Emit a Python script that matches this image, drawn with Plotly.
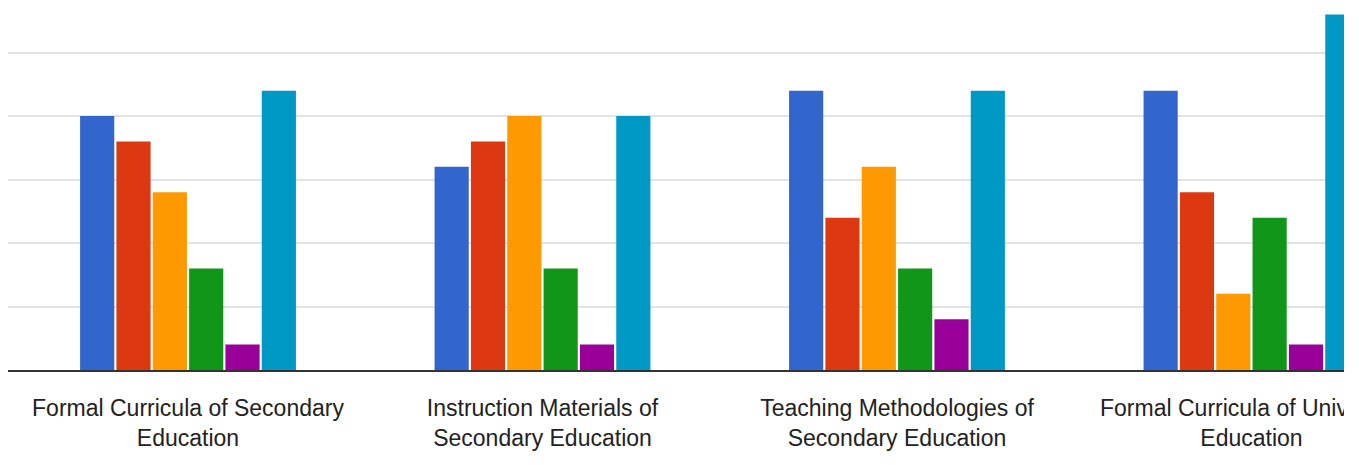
import plotly.graph_objects as go

categories = [
    "Formal Curricula of Secondary<br>Education",
    "Instruction Materials of<br>Secondary Education",
    "Teaching Methodologies of<br>Secondary Education",
    "Formal Curricula of University<br>Education",
]
series_names = ["Series 1", "Series 2", "Series 3", "Series 4", "Series 5", "Series 6"]
s1 = [10, 8, 11, 11]
s2 = [9, 9, 6, 7]
s3 = [7, 10, 8, 3]
s4 = [4, 4, 4, 6]
s5 = [1, 1, 2, 1]
s6 = [11, 10, 11, 14]
colors = ["#3366cc", "#dc3912", "#ff9900", "#109618", "#990099", "#0099c6"]

fig = go.Figure()
for name, vals, col in zip(series_names, [s1, s2, s3, s4, s5, s6], colors):
    fig.add_trace(go.Bar(x=list(range(len(categories))), y=vals, name=name,
                         marker=dict(color=col, line=dict(width=0))))

fig.update_layout(
    width=1344, height=465,
    margin=dict(l=8, r=0, t=0, b=95, autoexpand=False),
    barmode="group", bargap=0.385, bargroupgap=0.06,
    plot_bgcolor="white", paper_bgcolor="white",
    showlegend=False,
    font=dict(family="Liberation Sans, Arial, sans-serif", color="#222222"),
)
fig.update_xaxes(
    tickmode="array", tickvals=list(range(len(categories))), ticktext=categories,
    range=[-0.5078, 3.261], showgrid=False, zeroline=False,
    showline=True, linecolor="#333333", linewidth=2,
    ticks="", tickfont=dict(size=23), ticklabeloverflow="allow",
    ticklabelstandoff=16, automargin=False,
)
fig.update_yaxes(
    range=[0, 14.57], dtick=2.5, showgrid=True, gridcolor="#e3e3e3", gridwidth=2,
    zeroline=False, showticklabels=False, ticks="", automargin=False,
)

fig.write_html("out.html", config={"displayModeBar": False},
               post_script="document.body.style.margin='0';")
